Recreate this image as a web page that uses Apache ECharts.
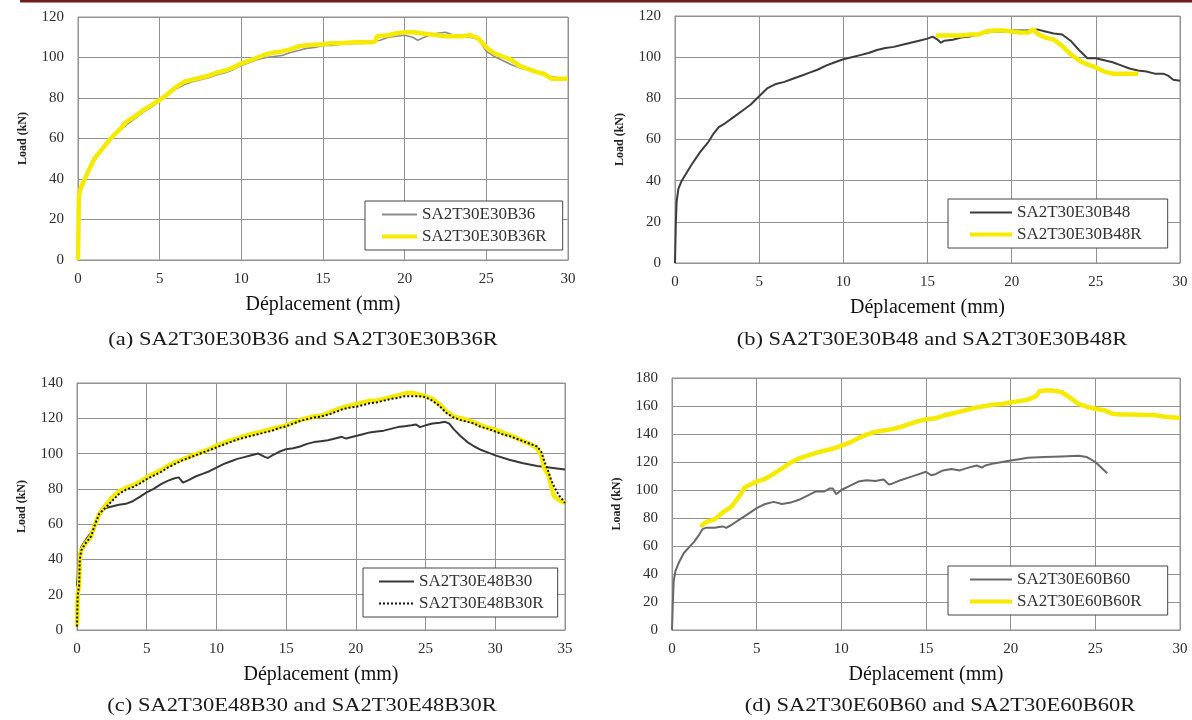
<!DOCTYPE html>
<html>
<head>
<meta charset="utf-8">
<title>Load–displacement curves</title>
<script src="https://cdn.jsdelivr.net/npm/echarts@6/dist/echarts.min.js"></script>
<style>
  html, body { margin: 0; padding: 0; background: #ffffff; }
  #chart { width: 1192px; height: 720px; }
</style>
</head>
<body>
<div id="chart"></div>
<script>
// ---- (a) SA2T30E30B36 / SA2T30E30B36R : [displacement mm, load kN]
const aBase = [[0,0],[0,32],[0.2,36],[0.5,42],[1,49],[1.5,55],[2,60],[2.5,63.5],[3,67],[3.5,70],[4,73],[4.5,75.5],[5,78.5],[5.5,81.5],[6,84.5],[6.5,86.5],[7,88],[7.5,89],[8,90],[8.5,91.5],[9,92.5],[9.5,94],[10,96],[10.5,97.5],[11,99],[11.5,100],[12,100.5],[12.5,101],[13,102.5],[13.5,103.5],[14,104.5],[14.5,105],[15,106],[15.5,106],[16,106.5],[17,107],[17.5,107],[18,108],[18.5,108.5],[19,110],[19.5,110.5],[20,111],[20.5,110],[20.8,108.5],[21.2,110],[21.5,111],[22,112],[22.5,112.5],[23,111],[23.5,110.5],[24,110],[24.5,109],[25,103],[25.5,100.5],[26,98.5],[26.5,96.5],[27,95],[27.5,94],[28,93],[28.5,92],[29,90.5],[29.5,90],[30,89]];
const aRep = [[0,0],[0.05,30],[0.1,34],[0.3,38],[0.7,45],[1,50],[1.5,55],[2,60],[2.5,64],[3,68.5],[3.5,71],[4,74],[4.5,76.5],[5,79],[5.5,82],[6,85.5],[6.5,88],[7,89],[7.5,90],[8,91],[8.5,92.5],[9,93.5],[9.5,95],[10,97],[10.5,98.5],[11,100],[11.5,101.5],[12,102.5],[12.5,103],[13,104],[13.5,105.5],[14,106],[15,106.5],[15.5,107],[16,107],[17,107.5],[18,107.5],[18.2,108],[18.3,110.5],[19,111],[19.5,112],[20,112.5],[20.5,112.5],[21,112],[21.5,111.5],[22,111],[22.5,110.5],[23,110.5],[23.5,110.5],[24,111],[24.5,109.5],[25,105],[25.5,102],[26,100.5],[26.5,99],[27,96],[27.5,94.5],[28,93],[28.5,92],[29,89.5],[29.5,89.5],[30,89.5]];

// ---- (b) SA2T30E30B48 / SA2T30E30B48R
const bBase = [[0,0],[0.05,20],[0.1,30],[0.2,36],[0.4,40],[0.7,44],[1,48],[1.5,54],[2,59],[2.3,63],[2.6,66],[3,68],[3.5,71],[4,74],[4.5,77],[5,81],[5.5,85],[6,87],[6.5,88],[7,89.5],[7.5,91],[8,92.5],[8.5,94],[9,96],[9.5,97.5],[10,99],[10.5,100],[11,101],[11.5,102],[12,103.5],[12.5,104.5],[13,105],[13.5,106],[14,107],[14.5,108],[15,109],[15.3,110],[15.6,108.5],[15.8,107],[16,108],[16.5,108.5],[17,109.5],[17.5,110],[18,111],[18.5,112],[19,112.5],[19.5,112.5],[20,113],[20.5,113],[21,113],[21.5,113.5],[22,112.5],[22.5,111.5],[23,111],[23.5,108],[24,103.5],[24.5,99.5],[25,99.5],[25.5,98.5],[26,97.5],[26.5,96],[27,94.5],[27.5,93.5],[28,93],[28.5,92],[29,92],[29.3,91],[29.6,89],[30,88.5]];
const bRep = [[15.5,110.5],[16,110.5],[17,110.5],[17.5,111],[18,111],[18.5,112.5],[19,113],[19.5,113],[20,112.5],[20.5,112],[21,112],[21.3,113.5],[21.5,111.5],[22,109.5],[22.5,108.5],[23,105.5],[23.5,101.5],[24,98.5],[24.5,96.5],[25,95],[25.5,93],[26,92],[26.5,92],[27,92],[27.5,92]];

// ---- (c) SA2T30E48B30 / SA2T30E48B30R
const cBase = [[0,25],[0.05,30],[0.1,40],[0.3,47],[0.7,52],[1,55],[1.3,60],[1.7,66],[2,69],[2.5,70],[3,71],[3.5,71.5],[4,73],[4.5,75.5],[5,78],[5.5,80],[6,82.5],[6.5,84.5],[7,86],[7.3,86.5],[7.6,83.5],[8,85],[8.5,87],[9,88.5],[9.5,90],[10,92],[10.5,94],[11,95.5],[11.5,97],[12,98],[12.5,99],[13,100],[13.5,98],[13.7,97.5],[14,99],[14.5,101],[15,102.5],[15.5,103],[16,104],[16.5,105.5],[17,106.5],[17.5,107],[18,107.5],[18.5,108.5],[19,109.5],[19.3,108.5],[19.5,109],[20,110],[20.5,111],[21,112],[21.5,112.5],[22,113],[22.5,114],[23,115],[23.5,115.5],[24,116],[24.3,116.5],[24.6,115],[25,116],[25.5,117],[26,117.5],[26.4,118],[26.7,117],[27,114],[27.5,110],[28,106.5],[28.5,104],[29,102],[29.5,100.5],[30,99],[31,96.5],[32,94.5],[33,93],[34,92],[35,91]];
const cRep = [[0,2],[0.05,20],[0.15,25],[0.2,40],[0.3,45],[0.6,49],[1,53],[1.3,60],[1.6,66],[2,69],[2.5,73],[3,77],[3.5,79.5],[4,81],[4.5,83],[5,85.5],[5.5,87.5],[6,89.5],[6.5,92],[7,94],[7.5,96],[8,97.5],[8.5,99],[9,100.5],[9.5,102],[10,103.5],[10.5,105],[11,106.5],[11.5,108],[12,109],[12.5,110],[13,111],[13.5,112],[14,113],[14.5,114.5],[15,115.5],[15.5,117],[16,118.5],[16.5,119.5],[17,120.5],[17.5,121],[18,122],[18.5,123.5],[19,125],[19.5,126],[20,126.5],[20.5,127.5],[21,128.5],[21.5,129],[22,130],[22.5,131],[23,131.5],[23.5,132.5],[24,132.5],[24.5,132.5],[25,132],[25.5,130],[26,127],[26.5,123],[27,120.5],[27.5,119],[28,118],[28.5,117],[29,115],[29.5,114],[30,112.5],[30.5,111],[31,110],[31.5,108.5],[32,107],[32.5,105.5],[33,104],[33.3,101],[33.5,96],[33.8,90],[34,85],[34.3,80],[34.6,76],[35,72]];
const cRepTrace = [[0,2],[0.05,20],[0.15,25],[0.2,40],[0.3,45],[0.6,49],[1,53],[1.3,60],[1.6,66],[2,70],[2.5,75],[3,78.5],[3.5,80.5],[4,82],[4.5,84],[5,86.5],[5.5,88.5],[6,90.5],[6.5,93],[7,95],[7.5,96.5],[8,98],[8.5,99.5],[9,101],[9.5,102.5],[10,104.5],[10.5,106],[11,107.5],[11.5,108.5],[12,110],[12.5,111],[13,112],[13.5,113],[14,114],[14.5,115],[15,116],[15.5,117.5],[16,119],[16.5,120],[17,121],[17.5,121.5],[18,123],[18.5,124.5],[19,126],[19.5,127],[20,128],[20.5,129],[21,130],[21.5,130],[22,131],[22.5,132],[23,133],[23.5,134],[24,134.5],[24.5,133.5],[25,132.5],[25.5,131],[26,128],[26.5,124],[27,121],[27.5,120],[28,119],[28.5,117.5],[29,116],[29.5,114.5],[30,113.5],[30.5,112],[31,110.5],[31.5,109],[32,107],[32.5,105.5],[33,103],[33.3,99],[33.5,92],[33.8,88],[34,82],[34.2,76],[34.5,74],[35,72]];

// ---- (d) SA2T30E60B60 / SA2T30E60B60R
const dBase = [[0,0],[0.05,20],[0.1,35],[0.2,42],[0.4,48],[0.7,55],[1,59],[1.3,63],[1.6,68],[1.8,72],[2,73],[2.5,73],[3,74],[3.2,73],[3.5,75],[4,79],[4.5,83],[5,87],[5.5,90],[6,91.5],[6.5,90],[7,91],[7.5,93],[8,96],[8.5,99],[9,99],[9.3,101],[9.5,101],[9.7,97],[10,100],[10.5,103],[11,106],[11.5,107],[12,106.5],[12.5,107.5],[12.8,104],[13,104.5],[13.5,107],[14,109],[14.5,111],[15,113],[15.3,110.5],[15.5,111],[16,114],[16.5,115],[17,114],[17.5,116],[18,117.5],[18.3,116],[18.5,117.5],[19,119],[19.5,120],[20,121],[20.5,122],[21,123],[22,123.5],[23,124],[24,124.5],[24.5,123.5],[25,120],[25.7,112]];
const dRep = [[1.7,74],[2,77],[2.5,79],[3,84],[3.5,88],[4,96],[4.3,102],[5,106],[5.5,108],[6,111.5],[6.5,115.5],[7,119.5],[7.5,122.5],[8,124.5],[8.5,126.5],[9,128],[9.5,129.5],[10,131.5],[10.5,134],[11,137],[11.5,139.5],[12,141.5],[12.5,142.5],[13,143.5],[13.5,145],[14,147],[14.5,149],[15,150.5],[15.5,151],[16,153],[16.5,154.5],[17,156],[17.5,157.5],[18,159],[18.5,160],[19,161],[19.5,161.5],[20,162.5],[20.5,163.5],[21,164.5],[21.5,167],[21.7,170.5],[22,171],[22.5,171],[23,170],[23.5,166],[24,161.5],[24.5,159.5],[25,158],[25.5,157],[26,154.5],[26.5,154],[27,154],[28,153.5],[28.5,153.5],[29,152.5],[30,151.5]];

// axis ranges and captions
const xMax = [30, 30, 35, 30];
const yMax = [120, 120, 140, 180];
const captions = [
  '(a) SA2T30E30B36 and SA2T30E30B36R',
  '(b) SA2T30E30B48 and SA2T30E30B48R',
  '(c) SA2T30E48B30 and SA2T30E48B30R',
  '(d) SA2T30E60B60 and SA2T30E60B60R'
];
const names = [
  ['SA2T30E30B36', 'SA2T30E30B36R'],
  ['SA2T30E30B48', 'SA2T30E30B48R'],
  ['SA2T30E48B30', 'SA2T30E48B30R'],
  ['SA2T30E60B60', 'SA2T30E60B60R']
];

const SERIF = '"Liberation Serif", "DejaVu Serif", serif';
const YELLOW = '#f6ea00';
const GRIDLINE = '#929292';
const TICK = '#2c2c2c';

const gridBoxes = [
  { left: 78, top: 17, width: 490, height: 243 },
  { left: 675, top: 16, width: 505, height: 247 },
  { left: 77, top: 383, width: 488, height: 247 },
  { left: 672, top: 378, width: 508, height: 252 }
];
// key boxes: position, inner padding and line-sample length per panel
const legendBoxes = [
  { left: 365, top: 201, padding: [5, 16, 5, 15], itemWidth: 35 },
  { left: 948, top: 199, padding: [5, 26, 5, 20], itemWidth: 42 },
  { left: 363, top: 568, padding: [5, 14, 5, 15], itemWidth: 35 },
  { left: 948, top: 566, padding: [5, 26, 5, 20], itemWidth: 42 }
];
const baseColor = ['#8c8c8c', '#3c3c3c', '#383838', '#686868'];

const grid = gridBoxes.map(g => Object.assign({
  show: true, borderColor: GRIDLINE, borderWidth: 1, backgroundColor: '#fff'
}, g));

const xAxis = xMax.map((mx, i) => ({
  type: 'value', gridIndex: i, min: 0, max: mx, interval: 5,
  name: 'Déplacement (mm)', nameLocation: 'middle', nameGap: 35,
  nameTextStyle: { fontFamily: SERIF, fontSize: 20, color: '#111' },
  axisLine: { show: true, lineStyle: { color: GRIDLINE } },
  axisTick: { show: false },
  axisLabel: { fontFamily: SERIF, fontSize: 15, color: TICK, margin: 12 },
  splitLine: { show: true, lineStyle: { color: GRIDLINE, width: 1 } }
}));

const yAxis = yMax.map((mx, i) => ({
  type: 'value', gridIndex: i, min: 0, max: mx, interval: 20,
  name: 'Load (kN)', nameLocation: 'middle', nameGap: 49, nameRotate: 90,
  nameTextStyle: { fontFamily: SERIF, fontSize: 12, fontWeight: 'bold', color: '#222' },
  axisLine: { show: true, lineStyle: { color: GRIDLINE } },
  axisTick: { show: false },
  axisLabel: { fontFamily: SERIF, fontSize: 15, color: TICK, margin: 14 },
  splitLine: { show: true, lineStyle: { color: GRIDLINE, width: 1 } }
}));

function line(name, data, idx, style, z) {
  return {
    type: 'line', name: name, data: data,
    xAxisIndex: idx, yAxisIndex: idx,
    showSymbol: false, symbol: 'none', smooth: false,
    lineStyle: style, itemStyle: { color: style.color },
    z: z, animation: false, silent: true
  };
}

const baseSets = [aBase, bBase, cBase, dBase];
const repSets = [aRep, bRep, cRep, dRep];
const traceSets = [aRep, bRep, cRepTrace, dRep];

const series = [];
const legend = [];
for (let i = 0; i < 4; i++) {
  const [nb, nr] = names[i];
  series.push(line(nb, baseSets[i], i, { color: baseColor[i], width: i === 0 ? 1.6 : 2 }, 2));
  if (i === 2) {
    // panel (c): the dotted replica is the series shown in its key
    series.push(line(nr, repSets[i], i, { color: '#111', width: 2, type: 'dotted' }, 4));
    series.push(line(nr, traceSets[i], i, { color: YELLOW, width: 4.5 }, 3));
  } else {
    series.push(line(nr, traceSets[i], i, { color: YELLOW, width: 4.5 }, 4));
    series.push(line(nr, repSets[i], i, { color: '#111', width: 2, type: 'dotted' }, 3));
  }
  // keys show only the line sample (no marker dot)
  const repKey = i === 2
    ? { name: nr, itemStyle: { opacity: 0 }, lineStyle: { color: '#111', width: 2, type: 'dotted' } }
    : { name: nr, itemStyle: { opacity: 0 }, lineStyle: { color: YELLOW, width: 4, type: 'solid' } };
  const lb = legendBoxes[i];
  legend.push({
    orient: 'vertical', show: true,
    left: lb.left, top: lb.top, padding: lb.padding,
    backgroundColor: '#fff', borderColor: '#444', borderWidth: 1,
    itemGap: 5, itemWidth: lb.itemWidth, itemHeight: 14,
    selectedMode: false,
    textStyle: { fontFamily: SERIF, fontSize: 17, color: '#333' },
    data: [
      { name: nb, itemStyle: { opacity: 0 }, lineStyle: { color: baseColor[i], width: 2, type: 'solid' } },
      repKey
    ]
  });
}

const captionPos = [[303, 340], [932, 340], [302, 706], [940, 706]];
const graphic = [
  { type: 'rect', left: 20, top: 0, shape: { width: 1172, height: 2.5 }, style: { fill: '#6e1d1d' }, silent: true }
].concat(captions.map((t, i) => ({
  type: 'text', x: captionPos[i][0], y: captionPos[i][1], scaleX: 1.25, silent: true,
  style: { text: t, fontFamily: SERIF, fontSize: 18, fill: '#1a1a1a', textAlign: 'center', textVerticalAlign: 'middle' }
})));

const chart = echarts.init(document.getElementById('chart'), null, { renderer: 'canvas' });
chart.setOption({
  animation: false,
  backgroundColor: '#fff',
  grid: grid,
  xAxis: xAxis,
  yAxis: yAxis,
  legend: legend,
  series: series,
  graphic: graphic
});
</script>
</body>
</html>
